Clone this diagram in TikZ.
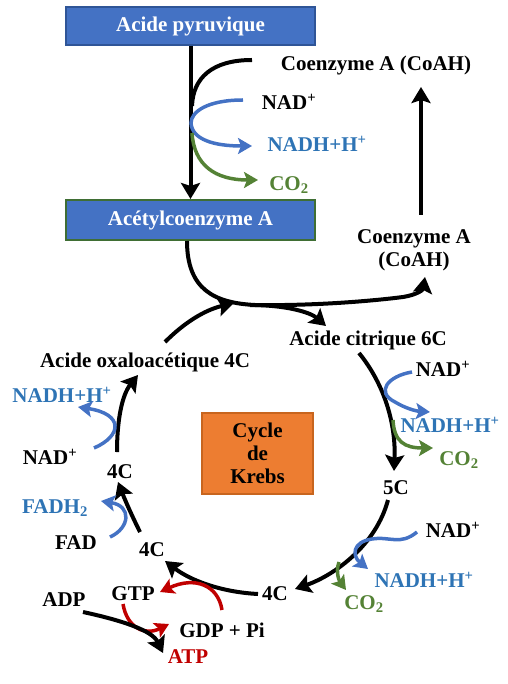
\documentclass[tikz,border=0pt]{standalone}
\usepackage{fontspec}
\setmainfont{Liberation Serif}
\usetikzlibrary{arrows.meta}
\definecolor{boxblue}{HTML}{4472C4}
\definecolor{boxborder}{HTML}{2F5597}
\definecolor{boxgreen}{HTML}{3F6E34}
\definecolor{arrblue}{HTML}{4472C4}
\definecolor{txtblue}{HTML}{2E74B5}
\definecolor{grn}{HTML}{548235}
\definecolor{rdd}{HTML}{C00000}
\definecolor{orng}{HTML}{ED7D31}
\definecolor{orngborder}{HTML}{C8651E}
\newcommand{\sps}[1]{\textsuperscript{#1}}
\newcommand{\sbs}[1]{\textsubscript{#1}}
\begin{document}
\begin{tikzpicture}[x=1pt,y=-1pt,
  font=\fontsize{21}{23}\selectfont\bfseries,
  lbl/.style={inner sep=0pt, anchor=center},
  box/.style={fill=boxblue, text=white, minimum width=249pt, inner sep=0pt, line width=2pt},
  blk/.style={line width=4pt, draw=black, -{Stealth[length=16pt,width=19pt,inset=3pt]}},
  blkline/.style={line width=4pt, draw=black},
  bl/.style={line width=3.5pt, draw=arrblue, -{Stealth[length=14pt,width=16pt,inset=3pt]}},
  gr/.style={line width=3.5pt, draw=grn, -{Stealth[length=14pt,width=16pt,inset=3pt]}},
  rd/.style={line width=3.5pt, draw=rdd, -{Stealth[length=14pt,width=16pt,inset=3pt]}}
]
\useasboundingbox (0,0) rectangle (507,684);

% boxes
\node[box, draw=boxborder, minimum height=38pt] (pyr) at (190.5,26) {Acide pyruvique};
\node[box, draw=boxgreen, minimum height=40pt] (acet) at (190.5,220) {Acétylcoenzyme A};
\node[fill=orng, draw=orngborder, line width=1.5pt, minimum width=111pt, minimum height=81pt, inner sep=0pt, align=center] (krebs) at (257.5,453.5) {Cycle\\de\\Krebs};

% labels
\node[lbl] (coa1) at (376,65) {Coenzyme A (CoAH)};
\node[lbl] (nad1) at (289,102) {NAD\sps{+}};
\node[lbl, text=txtblue] (nadh1) at (317,144) {NADH+H\sps{+}};
\node[lbl, text=grn] (co21) at (289,185) {CO\sbs{2}};
\node[lbl, align=center] (coa2) at (414,250) {Coenzyme A\\(CoAH)};
\node[lbl] (citr) at (368,340) {Acide citrique 6C};
\node[lbl] (oxalo) at (145,362) {Acide oxaloacétique 4C};
\node[lbl] (nad2) at (443,369) {NAD\sps{+}};
\node[lbl, text=txtblue] (nadh2) at (450,425) {NADH+H\sps{+}};
\node[lbl, text=grn] (co22) at (459,460) {CO\sbs{2}};
\node[lbl] (c5) at (396,488) {5C};
\node[lbl] (nad3) at (453,530) {NAD\sps{+}};
\node[lbl, text=txtblue] (nadh3) at (424,580) {NADH+H\sps{+}};
\node[lbl, text=grn] (co23) at (364,604) {CO\sbs{2}};
\node[lbl] (c4a) at (275,594) {4C};
\node[lbl] (gtp) at (133,594) {GTP};
\node[lbl] (gdp) at (222,630) {GDP + Pi};
\node[lbl] (adp) at (64,600) {ADP};
\node[lbl, text=rdd] (atp) at (188,657) {ATP};
\node[lbl] (c4b) at (152,550) {4C};
\node[lbl, text=txtblue] (fadh) at (55,508) {FADH\sbs{2}};
\node[lbl] (fad) at (76,543) {FAD};
\node[lbl] (c4c) at (120,472) {4C};
\node[lbl, text=txtblue] (nadh4) at (62,395) {NADH+H\sps{+}};
\node[lbl] (nad4) at (50,457) {NAD\sps{+}};

% named end points
\coordinate (coaTopS) at (192,106);
\coordinate (coaTopE) at (252,60);
\coordinate (bl1s) at (243,100);
\coordinate (bl1e) at (252,146);
\coordinate (gr1s) at (192,133);
\coordinate (gr1e) at (258,180);
\coordinate (upS) at (421,215);
\coordinate (upE) at (421,87);
\coordinate (acS) at (187,241);
\coordinate (coaE) at (425,277);
\coordinate (brS) at (250,305);
\coordinate (citE) at (326,326);
\coordinate (oxS) at (165,342);
\coordinate (oxE) at (234,303);
\coordinate (citS) at (359,353);
\coordinate (c5E) at (394,471);
\coordinate (bl2s) at (412,372);
\coordinate (bl2e) at (430,412);
\coordinate (gr2s) at (393,420);
\coordinate (gr2e) at (433,448);
\coordinate (c5S) at (388,500);
\coordinate (c4aE) at (295,589);
\coordinate (bl3s) at (417,532);
\coordinate (bl3e) at (368,569);
\coordinate (gr3s) at (339,562);
\coordinate (gr3e) at (346,590);
\coordinate (c4aS) at (258,594);
\coordinate (c4bE) at (165,561);
\coordinate (rd1s) at (222,610);
\coordinate (rd1e) at (160,592);
\coordinate (rd2s) at (123,604);
\coordinate (rd2e) at (169,624);
\coordinate (adpS) at (83,612);
\coordinate (atpE) at (163,653);
\coordinate (c4bS) at (140,532);
\coordinate (c4cE) at (118,482);
\coordinate (bl4s) at (110,537);
\coordinate (bl4e) at (101,501);
\coordinate (c4cS) at (117,452);
\coordinate (oxE2) at (138,375);
\coordinate (bl5s) at (94,448);
\coordinate (bl5e) at (78,407);

% top section
\draw[blk] (pyr.south) -- (acet.north);
\draw[blkline] (coaTopS) .. controls (193,78) and (212,60) .. (coaTopE);
\draw[bl] (bl1s) .. controls (207,100) and (191,112) .. (191,123) .. controls (192,140) and (215,146) .. (bl1e);
\draw[gr] (gr1s) .. controls (194,165) and (215,180) .. (gr1e);
\draw[blk] (upS) -- (upE);

% entry into cycle
\draw[blk] (acS) .. controls (187,290) and (215,303) .. (255,305) .. controls (320,306) and (380,300) .. (403,297) .. controls (416,295) and (423,290) .. (coaE);
\draw[blk] (brS) .. controls (285,305) and (310,312) .. (citE);
\draw[blk] (oxS) .. controls (185,322) and (205,310) .. (oxE);

% citric -> 5C
\draw[blk] (citS) .. controls (385,385) and (396,425) .. (c5E);
\draw[bl] (bl2s) .. controls (388,376) and (375,392) .. (395,402) .. controls (405,408) and (415,411) .. (bl2e);
\draw[gr] (gr2s) .. controls (394,442) and (405,448) .. (gr2e);

% 5C -> 4C
\draw[blk] (c5S) .. controls (376,545) and (335,575) .. (c4aE);
\draw[bl] (bl3s) .. controls (400,546) and (390,536) .. (372,539) .. controls (352,542) and (352,556) .. (bl3e);
\draw[gr] (gr3s) .. controls (335,573) and (340,582) .. (gr3e);

% 4C -> 4C with GTP
\draw[blk] (c4aS) .. controls (220,592) and (190,580) .. (c4bE);
\draw[rd] (rd1s) .. controls (218,585) and (195,576) .. (rd1e);
\draw[rd] (rd2s) .. controls (127,628) and (145,636) .. (rd2e);
\draw[blk] (adpS) .. controls (120,620) and (152,630) .. (atpE);

% 4C -> 4C with FAD
\draw[blk] (c4bS) .. controls (132,516) and (125,500) .. (c4cE);
\draw[bl] (bl4s) .. controls (130,528) and (132,506) .. (bl4e);

% 4C -> oxaloacetate
\draw[blk] (c4cS) .. controls (117,420) and (122,395) .. (oxE2);
\draw[bl] (bl5s) .. controls (122,436) and (124,414) .. (bl5e);
\end{tikzpicture}
\end{document}
